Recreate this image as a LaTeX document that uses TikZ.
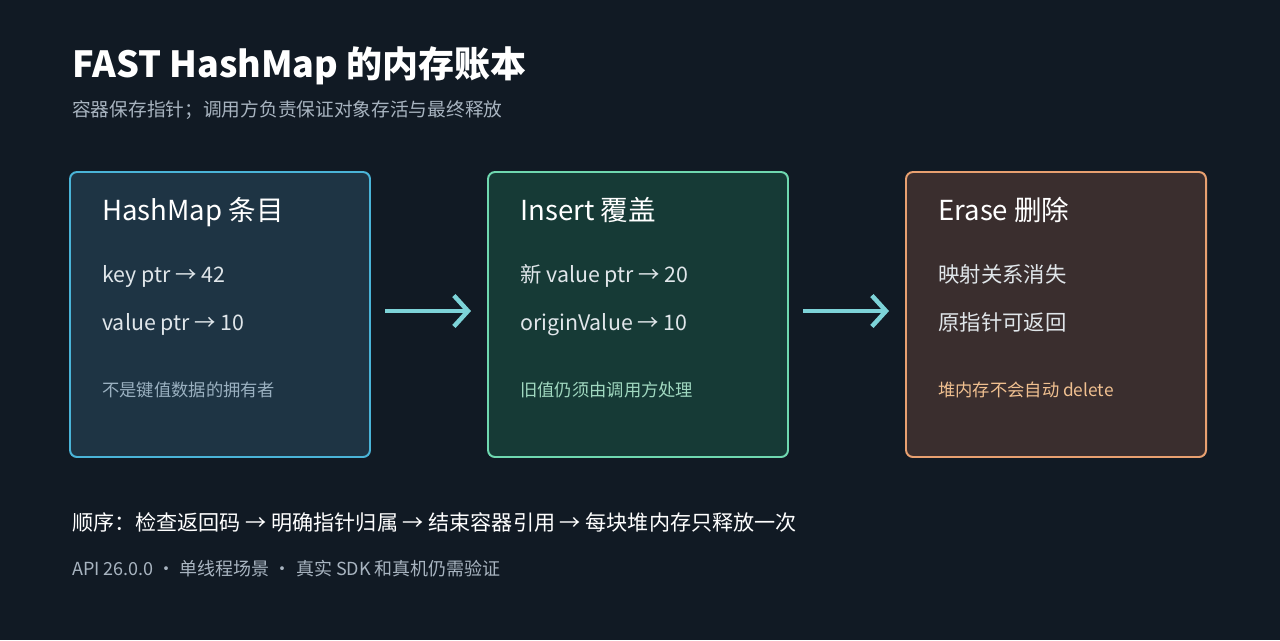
\documentclass[tikz,border=0pt]{standalone}
\usepackage{fontspec}
\setmainfont{Noto Sans CJK SC}
\usetikzlibrary{arrows.meta}
\definecolor{bg}{HTML}{111A24}
\definecolor{boxa}{HTML}{1E3444}
\definecolor{linea}{HTML}{4AB4D8}
\definecolor{boxb}{HTML}{163A36}
\definecolor{lineb}{HTML}{6FD8B0}
\definecolor{boxc}{HTML}{3A2E2E}
\definecolor{linec}{HTML}{E8A070}
\definecolor{arr}{HTML}{7DD3D8}
\definecolor{soft}{HTML}{A8B4C0}
\definecolor{item}{HTML}{E0E6EA}
\definecolor{notea}{HTML}{9AB0C0}
\definecolor{noteb}{HTML}{A0D8C0}
\definecolor{notec}{HTML}{F0C090}
\begin{document}
\begin{tikzpicture}[x=0.025cm,y=-0.025cm]
\tikzset{card/.style = {draw,line width=1.4pt,rounded corners=5pt},
  txt/.style = {anchor=base west,inner sep=0pt},
  head/.style = {txt,text=white,font=\fontsize{19.6}{22}\selectfont},
  entry/.style = {txt,text=item,font=\fontsize{15.2}{18}\selectfont},
  note/.style = {txt,font=\fontsize{12.3}{14}\selectfont},
  flow/.style = {draw=arr,line width=3.2pt,-{Straight Barb[length=10pt,width=22pt,line width=3.2pt]}}}
\fill[bg] (0,0) rectangle (1280,640);
% title
\node[txt,text=white,font=\bfseries\fontsize{25.6}{28}\selectfont] (title) at (72,77) {FAST HashMap 的内存账本};
\node[txt,text=soft,font=\fontsize{13.3}{15}\selectfont] (sub) at (72,116) {容器保存指针；调用方负责保证对象存活与最终释放};
% cards
\draw[card,fill=boxa,draw=linea] (70,172) rectangle (370,457);
\draw[card,fill=boxb,draw=lineb] (488,172) rectangle (788,457);
\draw[card,fill=boxc,draw=linec] (906,172) rectangle (1206,457);
\node[head] (ta) at (102,220) {HashMap 条目};
\node[entry] (a1) at (102,282) {key ptr → 42};
\node[entry] (a2) at (102,330) {value ptr → 10};
\node[note,text=notea] (na) at (102,396) {不是键值数据的拥有者};
\node[head] (tb) at (520,220) {Insert 覆盖};
\node[entry] (b1) at (520,282) {新 value ptr → 20};
\node[entry] (b2) at (520,330) {originValue → 10};
\node[note,text=noteb] (nb) at (520,396) {旧值仍须由调用方处理};
\node[head] (tc) at (938,220) {Erase 删除};
\node[entry] (c1) at (938,282) {映射关系消失};
\node[entry] (c2) at (938,330) {原指针可返回};
\node[note,text=notec] (nc) at (938,396) {堆内存不会自动 delete};
% arrows
\coordinate (p1) at (385,311); \coordinate (q1) at (471,311);
\coordinate (p2) at (803,311); \coordinate (q2) at (889,311);
\draw[flow] (p1) -- (q1);
\draw[flow] (p2) -- (q2);
% footer
\node[txt,text=white,font=\fontsize{15}{17}\selectfont] (seq) at (72,530) {顺序：检查返回码 → 明确指针归属 → 结束容器引用 → 每块堆内存只释放一次};
\node[txt,text=soft,font=\fontsize{12.8}{15}\selectfont] (foot) at (72,575) {API 26.0.0 · 单线程场景 · 真实 SDK 和真机仍需验证};
\end{tikzpicture}
\end{document}
